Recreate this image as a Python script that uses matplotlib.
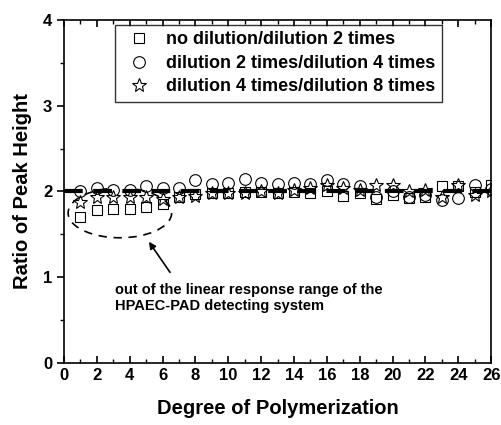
import numpy as np
import matplotlib.pyplot as plt
from matplotlib.patches import Arc

plt.rcParams['font.family'] = ['Liberation Sans', 'DejaVu Sans']
plt.rcParams['font.weight'] = 'bold'

dp = np.arange(1, 27)
ratio_nd_d2 = [1.70, 1.78, 1.79, 1.80, 1.82, 1.85, 1.94, 1.97, 1.98, 1.98,
               1.99, 1.99, 1.98, 1.99, 1.98, 2.00, 1.95, 1.98, 1.91, 1.96,
               1.92, 1.94, 2.06, 2.06, 1.99, 2.08]
ratio_d2_d4 = [2.00, 2.04, 2.02, 2.02, 2.06, 2.04, 2.04, 2.13, 2.09, 2.10,
               2.14, 2.10, 2.09, 2.10, 2.09, 2.13, 2.09, 2.06, 1.94, 2.00,
               1.94, 1.96, 1.90, 1.92, 2.08, 2.03]
ratio_d4_d8 = [1.88, 1.93, 1.93, 1.93, 1.94, 1.91, 1.94, 1.95, 1.98, 1.98,
               1.98, 2.00, 1.98, 2.02, 2.04, 2.08, 2.04, 2.02, 2.08, 2.08,
               2.00, 2.02, 1.94, 2.08, 1.96, 2.00]

fig = plt.figure(figsize=(5.02, 4.25), dpi=100)
ax = fig.add_axes([0.1275, 0.146, 0.851, 0.807])

ax.plot(dp, ratio_nd_d2, 's', ms=6.7, mfc='none', mec='black', mew=0.8,
        label='no dilution/dilution 2 times', zorder=3)
ax.plot(dp, ratio_d2_d4, 'o', ms=8.4, mfc='none', mec='black', mew=0.8,
        label='dilution 2 times/dilution 4 times', zorder=3)
ax.plot(dp, ratio_d4_d8, '*', ms=10, mfc='none', mec='black', mew=0.8,
        label='dilution 4 times/dilution 8 times', zorder=3)

# theoretical ratio of 2
ax.plot([0, 26], [2, 2], color='black', lw=3, ls=(0, (4.5, 2.5)), zorder=4)

# dashed outline around the low-DP points
ax.add_patch(Arc((3.4, 1.75), 6.3, 0.58, theta1=160, theta2=382,
                 ls=(0, (5, 4)), lw=1.2, color='black'))
ax.annotate('', xy=(5.07, 1.44), xytext=(6.55, 1.03),
            arrowprops=dict(arrowstyle='-|>', color='black', lw=1.2,
                            mutation_scale=10))
ax.text(3.1, 0.93, 'out of the linear response range of the\nHPAEC-PAD detecting system',
        fontsize=10.5, fontweight='bold', va='top', ha='left', linespacing=1.15)

ax.set_xlim(0, 26)
ax.set_ylim(0, 4)
ax.set_xticks(np.arange(0, 27, 2))
ax.set_xticks(np.arange(0, 27, 1), minor=True)
ax.set_yticks(np.arange(0, 5, 1))
ax.set_yticks(np.arange(0, 4.1, 0.5), minor=True)
ax.tick_params(axis='both', which='major', labelsize=12, width=1.2, length=5)
ax.tick_params(axis='both', which='minor', width=1.0, length=3)
ax.tick_params(axis='x', which='both', direction='in', top=True)
ax.tick_params(axis='y', which='both', direction='out')
for s in ax.spines.values():
    s.set_linewidth(1.2)

ax.set_xlabel('Degree of Polymerization', fontsize=14.5, fontweight='bold', labelpad=12)
ax.set_ylabel('Ratio of Peak Height', fontsize=14.5, fontweight='bold', labelpad=8)

leg = ax.legend(loc='upper left', bbox_to_anchor=(0.119, 0.985), fontsize=13,
                frameon=True, fancybox=False, edgecolor='black', handletextpad=0.5,
                borderpad=0.35, labelspacing=0.36, borderaxespad=0)
leg.get_frame().set_linewidth(1.0)

plt.savefig('out.png', dpi=100)
